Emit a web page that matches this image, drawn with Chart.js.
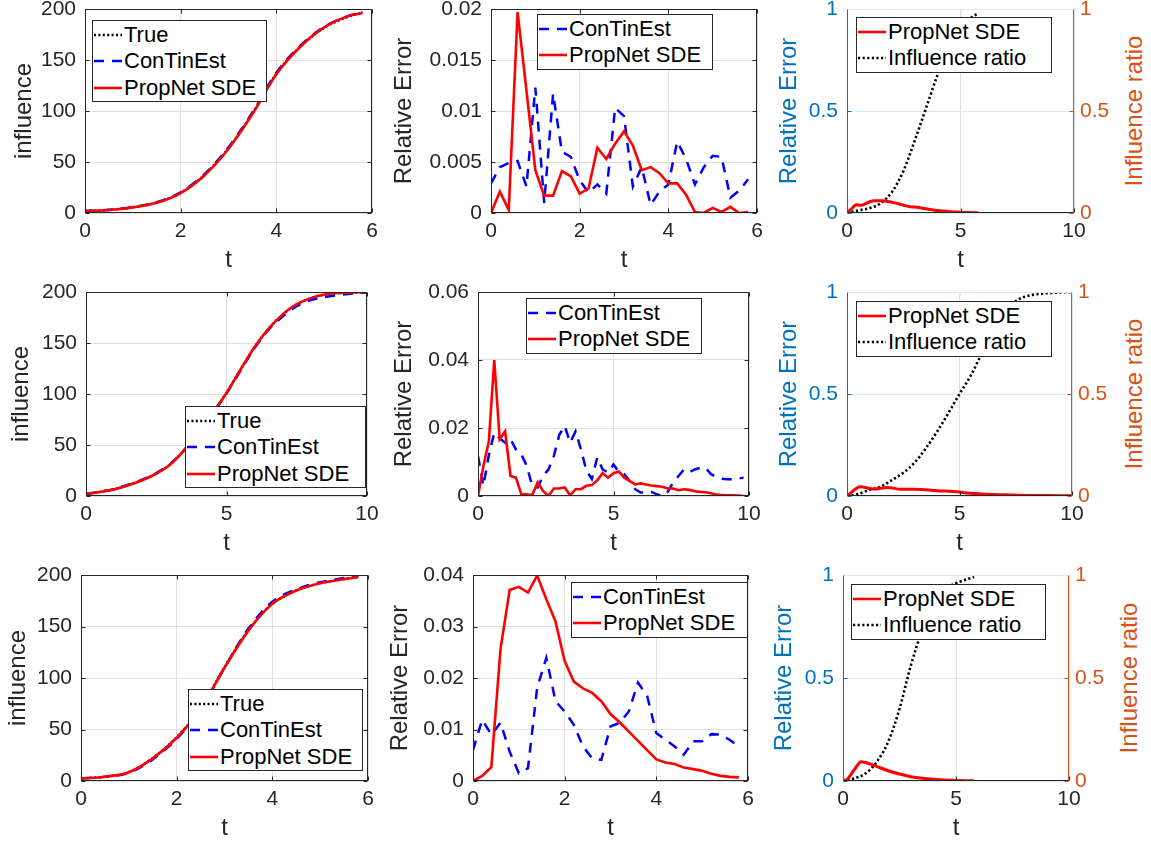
<!DOCTYPE html>
<html>
<head>
<meta charset="utf-8">
<script src="https://cdn.jsdelivr.net/npm/chart.js"></script>
<style>
  body { margin: 0; background: #fff; }
  #fig { position: relative; width: 1151px; height: 843px; overflow: hidden; font-family: "Liberation Sans", Arial, sans-serif; }
  .panel { position: absolute; }
  .legend { position: absolute; background: #fff; border: 1px solid #262626; box-sizing: border-box; font-size: 22px; color: #000; }
  .legend .row { position: absolute; left: 0; height: 26px; display: flex; align-items: center; white-space: nowrap; }
  .legend svg { margin-left: 1px; margin-right: 2px; }
  .rtitle { position: absolute; font-size: 24px; color: #D95319; white-space: nowrap; transform: translate(-50%, -50%) rotate(-90deg); }
</style>
</head>
<body>
<div id="fig"></div>
<script>
// time grids
const tFine1 = [0, 0.2, 0.4, 0.6, 0.8, 1, 1.2, 1.4, 1.6, 1.8, 2, 2.2, 2.4, 2.6, 2.8, 3, 3.2, 3.4, 3.6, 3.8, 4, 4.2, 4.4, 4.6, 4.8, 5, 5.2, 5.4, 5.6, 5.8];
const tFine2 = [0, 0.2, 0.4, 0.6, 0.8, 1, 1.2, 1.4, 1.6, 1.8, 2, 2.2, 2.4, 2.6, 2.8, 3, 3.2, 3.4, 3.6, 3.8, 4, 4.2, 4.4, 4.6, 4.8,
  5, 5.2, 5.4, 5.6, 5.8, 6, 6.2, 6.4, 6.6, 6.8, 7, 7.2, 7.4, 7.6, 7.8, 8, 8.2, 8.4, 8.6, 8.8, 9, 9.2, 9.4, 9.6, 9.8];
const tHalf1 = [0, 0.5, 1, 1.5, 2, 2.5, 3, 3.5, 4, 4.5, 5, 5.5, 5.8];
const tHalf2 = [0, 0.5, 1, 1.5, 2, 2.5, 3, 3.5, 4, 4.5, 5, 5.5, 6, 6.5, 7, 7.5, 8, 8.5, 9, 9.5, 10];

// column 1: influence
const true1 = [2, 3, 5.6, 10.3, 19.8, 37.5, 63.5, 97.5, 136.5, 163, 181.5, 192.5, 196.5];
const con1 = [2, 3.1, 5.8, 10.6, 20.3, 38.2, 64.5, 98.5, 137.5, 164, 182.5, 193, 197];
const prop1 = [2, 3, 5.5, 10, 19.5, 37, 63, 97, 136, 163, 182, 193, 196];

const true2 = [2, 4, 6.6, 10.6, 15.6, 22, 31, 45, 62, 81, 101, 124, 146, 164, 178, 188, 194, 197.5, 199, 199.5, 200];
const con2 = [2, 4.2, 6.8, 11, 16, 22.5, 31.5, 45.5, 62.5, 81, 100.5, 123, 145, 163, 176, 186, 192, 195, 197, 198.5, 199.5];
const prop2 = [2, 4, 6.5, 10.5, 15.5, 22, 31, 45, 62, 81, 101, 124, 146, 164, 178, 188, 194, 197.5, 199, 199.5, 200];

const true3 = [2.5, 4.2, 8.6, 22.3, 42.5, 70.5, 110.5, 146.5, 172, 185, 192, 196, 198];
const con3 = [2.5, 4, 8, 21, 41, 69, 110, 148, 174, 186, 193, 197, 199.5];
const prop3 = [2.5, 4.2, 8.5, 22, 42, 70, 110, 146, 172, 185, 192, 196, 198];

// column 2: relative error
const errCon1 = [0.0029, 0.0045, 0.0049, 0.0051, 0.0026, 0.0123, 0.001, 0.0117, 0.006, 0.0055, 0.0032, 0.002, 0.0028, 0.0019, 0.0103,
  0.0095, 0.0026, 0.0045, 0.0008, 0.0021, 0.0028, 0.007, 0.0053, 0.0028, 0.0045, 0.0056, 0.0055, 0.0015, 0.0022, 0.0033];
const errProp1 = [0, 0.0021, 0.0003, 0.0197, 0.012, 0.0042, 0.0017, 0.0017, 0.0041, 0.0036, 0.0019, 0.0024, 0.0064, 0.0053, 0.0068,
  0.008, 0.0066, 0.0042, 0.0045, 0.0039, 0.0029, 0.0029, 0.0018, 0.0001, 0, 0.0005, 0.0001, 0.0006, 0, 0.0001];

const errCon2 = [0.0118, 0.003, 0.012, 0.0186, 0.017, 0.0157, 0.0167, 0.0137, 0.0123, 0.0088, 0.003, 0.0025, 0.0059, 0.0078, 0.0118,
  0.018, 0.0206, 0.0157, 0.019, 0.0137, 0.0074, 0.005, 0.0113, 0.0078, 0.0069, 0.0093, 0.007, 0.0064, 0.0044, 0.002,
  0.001, 0.001, 0.0012, 0.0005, 0, 0.0012, 0.004, 0.0059, 0.0078, 0.007, 0.0078, 0.0083, 0.0083, 0.0064, 0.0056,
  0.0051, 0.0049, 0.0049, 0.0051, 0.0054];
const errProp2 = [0, 0.0088, 0.016, 0.04, 0.0167, 0.019, 0.0059, 0.0054, 0.0005, 0.0005, 0.0002, 0.004, 0.0015, 0, 0.0022,
  0.0022, 0.0025, 0.0002, 0.002, 0.002, 0.003, 0.0032, 0.0046, 0.0067, 0.0054, 0.0067, 0.0072, 0.0054, 0.0044, 0.0034,
  0.0037, 0.0034, 0.0031, 0.0029, 0.0027, 0.0022, 0.0022, 0.0017, 0.002, 0.0018, 0.0014, 0.0012, 0.0011, 0.0008, 0.0004,
  0.0003, 0.0002, 0.0002, 0.0001, 0];

const errCon3 = [0.006, 0.0119, 0.009, 0.0113, 0.0057, 0.0015, 0.0025, 0.0181, 0.0239, 0.0155, 0.0135, 0.0109, 0.0067, 0.0044, 0.0041,
  0.0106, 0.0113, 0.0135, 0.0191, 0.0165, 0.0093, 0.008, 0.0067, 0.0051, 0.0077, 0.0077, 0.0091, 0.009, 0.008, 0.0067];
const errProp3 = [0, 0.001, 0.0027, 0.0256, 0.0371, 0.0377, 0.0366, 0.0399, 0.0353, 0.031, 0.0233, 0.0193, 0.018, 0.0171, 0.0155,
  0.013, 0.0114, 0.0096, 0.0078, 0.006, 0.0042, 0.0036, 0.0033, 0.0026, 0.0023, 0.002, 0.0014, 0.001, 0.0008, 0.0007];

// column 3: error and influence ratio
const sdeErr1 = [0, 0.02, 0.04, 0.038, 0.045, 0.055, 0.06, 0.06, 0.06, 0.056, 0.052, 0.047, 0.041, 0.035, 0.03,
  0.029, 0.026, 0.022, 0.018, 0.015, 0.012, 0.01, 0.008, 0.006, 0.005, 0.004, 0.003, 0.002, 0.001, 0.0005];
const ratio1 = [0, 0.013, 0.024, 0.049, 0.106, 0.21, 0.36, 0.52, 0.68, 0.81, 0.9, 0.96, 0.98];

const tSde2 = [0, 0.6, 1, 1.2, 1.8, 2.4, 3, 4, 5, 5.2, 6, 7, 8, 9, 10];
const sdeErr2 = [0, 0.045, 0.037, 0.034, 0.042, 0.033, 0.033, 0.026, 0.02, 0.016, 0.01, 0.006, 0.003, 0.002, 0.001];
const ratio2 = [0, 0.01, 0.03, 0.046, 0.078, 0.114, 0.163, 0.233, 0.315, 0.405, 0.5, 0.59, 0.7, 0.8, 0.89, 0.955, 0.98, 0.99, 0.995, 0.998, 1];

const tSde3 = [0, 0.2, 0.5, 0.8, 1, 1.5, 2, 2.5, 3, 3.5, 4, 4.5, 5, 5.8];
const sdeErr3 = [0, 0.01, 0.055, 0.094, 0.09, 0.07, 0.05, 0.034, 0.021, 0.013, 0.008, 0.005, 0.003, 0.001];
const ratio3 = [0, 0.013, 0.037, 0.094, 0.19, 0.35, 0.56, 0.73, 0.86, 0.93, 0.96, 0.98, 0.99];

// ticks
const xTicks6 = [0, 2, 4, 6], xLabels6 = ["0", "2", "4", "6"];
const xTicks10 = [0, 5, 10], xLabels10 = ["0", "5", "10"];
const yTicksInf = [0, 50, 100, 150, 200], yLabelsInf = ["0", "50", "100", "150", "200"];
const yTicksE1 = [0, 0.005, 0.01, 0.015, 0.02], yLabelsE1 = ["0", "0.005", "0.01", "0.015", "0.02"];
const yTicksE2 = [0, 0.02, 0.04, 0.06], yLabelsE2 = ["0", "0.02", "0.04", "0.06"];
const yTicksE3 = [0, 0.01, 0.02, 0.03, 0.04], yLabelsE3 = ["0", "0.01", "0.02", "0.03", "0.04"];
const yTicksR = [0, 0.5, 1], yLabelsR = ["0", "0.5", "1"];

const FONT = '"Liberation Sans", Arial, sans-serif';
const INK = "#262626";
const GRID = "#dfdfdf";
const BLUE_AX = "#0072BD";
const ORANGE_AX = "#D95319";

const styles = {
  prop: { label: "PropNet SDE", borderColor: "#ff0000", borderWidth: 2.6, borderDash: [] },
  con: { label: "ConTinEst", borderColor: "#0000ff", borderWidth: 2.5, borderDash: [10, 8] },
  tru: { label: "True", borderColor: "#000000", borderWidth: 2.4, borderDash: [2, 2.4] },
  ratio: { label: "Influence ratio", borderColor: "#000000", borderWidth: 2.6, borderDash: [2.2, 2.4] },
};

function zip(t, v) {
  return t.map((x, i) => ({ x: x, y: v[i] }));
}

function ds(kind, t, v, extra) {
  const s = styles[kind];
  return Object.assign({
    label: s.label, data: zip(t, v), borderColor: s.borderColor, borderWidth: s.borderWidth,
    borderDash: s.borderDash, borderCapStyle: "butt", pointRadius: 0, fill: false, tension: 0,
  }, extra || {});
}

// axes box + inner tick marks drawn on top of the data, like matlab
const framePlugin = {
  id: "frame",
  afterDatasetsDraw(chart, args, o) {
    const a = chart.chartArea;
    const ctx = chart.ctx;
    const l = Math.round(a.left) + 0.5, r = Math.round(a.right) - 0.5;
    const t = Math.round(a.top) + 0.5, b = Math.round(a.bottom) - 0.5;
    const seg = (x1, y1, x2, y2, c) => {
      ctx.beginPath(); ctx.moveTo(x1, y1); ctx.lineTo(x2, y2); ctx.strokeStyle = c; ctx.stroke();
    };
    ctx.save();
    ctx.lineWidth = 1;
    chart.scales.x.ticks.forEach((tk) => {
      const px = Math.round(chart.scales.x.getPixelForValue(tk.value)) + 0.5;
      seg(px, b, px, b - 4, o.bottom);
      seg(px, t, px, t + 4, o.top);
    });
    chart.scales.y.ticks.forEach((tk) => {
      const py = Math.round(chart.scales.y.getPixelForValue(tk.value)) + 0.5;
      seg(l, py, l + 4, py, o.left);
      seg(r, py, r - 4, py, o.right);
    });
    seg(l - 0.5, t, r + 0.5, t, o.top);
    seg(l - 0.5, b, r + 0.5, b, o.bottom);
    seg(l, t, l, b, o.left);
    seg(r, t, r, b, o.right);
    ctx.restore();
  },
};

const fig = document.getElementById("fig");

function addLegend(box, rows) {
  const lg = document.createElement("div");
  lg.className = "legend";
  lg.style.left = box[0] + "px";
  lg.style.top = box[1] + "px";
  lg.style.width = box[2] + "px";
  lg.style.height = (rows.length * 26.3 + 3.5) + "px";
  rows.forEach((kind, i) => {
    const s = styles[kind];
    const row = document.createElement("div");
    row.className = "row";
    row.style.top = (15 + 26.3 * i - 13 - 1) + "px";
    const dash = s.borderDash.length ? s.borderDash.join(" ") : "none";
    row.innerHTML = '<svg width="28" height="6"><line x1="0" y1="3" x2="28" y2="3" stroke="' + s.borderColor +
      '" stroke-width="' + s.borderWidth + '" stroke-dasharray="' + dash + '"/></svg><span>' + s.label + "</span>";
    lg.appendChild(row);
  });
  fig.appendChild(lg);
}

function buildPanel(p) {
  const mt = 14, mb = 62;
  const mr = p.twin ? 45 : 14;
  const left = p.ytc - 14;
  const ml = p.L - left;
  const W = ml + (p.R - p.L) + mr;
  const H = mt + (p.B - p.T) + mb;

  const wrap = document.createElement("div");
  wrap.className = "panel";
  wrap.style.left = left + "px";
  wrap.style.top = (p.T - mt) + "px";
  wrap.style.width = W + "px";
  wrap.style.height = H + "px";
  const cv = document.createElement("canvas");
  cv.width = W;
  cv.height = H;
  wrap.appendChild(cv);
  fig.appendChild(wrap);

  const tickFont = { family: FONT, size: 21 };
  const titleFont = { family: FONT, size: 24 };
  const titleLH = 24 * 1.2;
  const leftColor = p.twin ? BLUE_AX : INK;

  const scales = {
    x: {
      type: "linear", min: 0, max: p.xMax,
      afterBuildTicks: (s) => { s.ticks = p.xTicks.map((v) => ({ value: v })); },
      afterFit: (s) => { s.height = mb; s.paddingLeft = 0; s.paddingRight = 0; },
      ticks: { color: INK, font: tickFont, padding: 6, maxRotation: 0, autoSkip: false, callback: (v, i) => p.xLabels[i] },
      grid: { color: GRID, drawTicks: false },
      border: { display: false },
      title: { display: true, text: "t", color: INK, font: titleFont, padding: { top: 0, bottom: mb - 47 - titleLH / 2 } },
    },
    y: {
      type: "linear", position: "left", min: 0, max: p.yMax,
      afterBuildTicks: (s) => { s.ticks = p.yTicks.map((v) => ({ value: v })); },
      afterFit: (s) => { s.width = ml; s.paddingTop = 0; s.paddingBottom = 0; },
      ticks: { color: leftColor, font: tickFont, padding: 9, autoSkip: false, callback: (v, i) => p.yLabels[i] },
      grid: { color: p.twin ? "#d9eaf5" : GRID, drawTicks: false },
      border: { display: false },
      title: { display: true, text: p.yTitle, color: leftColor, font: titleFont, padding: { top: 14 - titleLH / 2, bottom: 0 } },
    },
  };
  if (p.twin) {
    scales.y2 = {
      type: "linear", position: "right", min: 0, max: 1,
      afterBuildTicks: (s) => { s.ticks = yTicksR.map((v) => ({ value: v })); },
      afterFit: (s) => { s.width = mr; s.paddingTop = 0; s.paddingBottom = 0; },
      ticks: { color: ORANGE_AX, font: tickFont, padding: 6, autoSkip: false, callback: (v, i) => yLabelsR[i] },
      grid: { display: false, drawTicks: false },
      border: { display: false },
    };
  }

  new Chart(cv, {
    type: "line",
    data: { datasets: p.datasets },
    plugins: [framePlugin],
    options: {
      responsive: false,
      animation: false,
      events: [],
      layout: { padding: { top: mt, right: p.twin ? 0 : mr, left: 0, bottom: 0 } },
      scales: scales,
      plugins: {
        legend: { display: false },
        tooltip: { enabled: false },
        frame: p.twin
          ? { top: "#d9eaf5", bottom: INK, left: BLUE_AX, right: ORANGE_AX }
          : { top: INK, bottom: INK, left: INK, right: INK },
      },
    },
  });

  if (p.twin) {
    const rt = document.createElement("div");
    rt.className = "rtitle";
    rt.textContent = "Influence ratio";
    rt.style.left = p.rtc + "px";
    rt.style.top = ((p.T + p.B) / 2) + "px";
    fig.appendChild(rt);
  }
  addLegend(p.legendBox, p.legendRows);
}

const smooth = { cubicInterpolationMode: "monotone" };

const panels = [
  // row 1
  { L: 85, R: 372, T: 9, B: 213, ytc: 24, xMax: 6, xTicks: xTicks6, xLabels: xLabels6, yMax: 200, yTicks: yTicksInf, yLabels: yLabelsInf,
    yTitle: "influence", legendBox: [92, 20, 175], legendRows: ["tru", "con", "prop"],
    datasets: [ds("prop", tHalf1, prop1, Object.assign({ order: 0 }, smooth)), ds("con", tHalf1, con1, Object.assign({ order: 1 }, smooth)),
      ds("tru", tHalf1, true1, Object.assign({ order: 2 }, smooth))] },
  { L: 491, R: 757, T: 9, B: 213, ytc: 404, xMax: 6, xTicks: xTicks6, xLabels: xLabels6, yMax: 0.02, yTicks: yTicksE1, yLabels: yLabelsE1,
    yTitle: "Relative Error", legendBox: [537, 14, 176], legendRows: ["con", "prop"],
    datasets: [ds("prop", tFine1, errProp1, { order: 0 }), ds("con", tFine1, errCon1, { order: 1 })] },
  { L: 847, R: 1074, T: 9, B: 213, ytc: 789, rtc: 1134, twin: true, xMax: 10, xTicks: xTicks10, xLabels: xLabels10, yMax: 1, yTicks: yTicksR, yLabels: yLabelsR,
    yTitle: "Relative Error", legendBox: [856, 17, 196], legendRows: ["prop", "ratio"],
    datasets: [ds("prop", tFine1, sdeErr1, Object.assign({ order: 0, borderWidth: 3 }, smooth)),
      ds("ratio", tHalf1, ratio1, Object.assign({ order: 1, yAxisID: "y2" }, smooth))] },
  // row 2
  { L: 86, R: 367, T: 292, B: 496, ytc: 21, xMax: 10, xTicks: xTicks10, xLabels: xLabels10, yMax: 200, yTicks: yTicksInf, yLabels: yLabelsInf,
    yTitle: "influence", legendBox: [185, 406, 181], legendRows: ["tru", "con", "prop"],
    datasets: [ds("prop", tHalf2, prop2, Object.assign({ order: 0 }, smooth)), ds("con", tHalf2, con2, Object.assign({ order: 1 }, smooth)),
      ds("tru", tHalf2, true2, Object.assign({ order: 2 }, smooth))] },
  { L: 478, R: 749, T: 292, B: 496, ytc: 404, xMax: 10, xTicks: xTicks10, xLabels: xLabels10, yMax: 0.06, yTicks: yTicksE2, yLabels: yLabelsE2,
    yTitle: "Relative Error", legendBox: [526, 298, 176], legendRows: ["con", "prop"],
    datasets: [ds("prop", tFine2, errProp2, { order: 0 }), ds("con", tFine2, errCon2, { order: 1 })] },
  { L: 847, R: 1072, T: 292, B: 496, ytc: 789, rtc: 1134, twin: true, xMax: 10, xTicks: xTicks10, xLabels: xLabels10, yMax: 1, yTicks: yTicksR, yLabels: yLabelsR,
    yTitle: "Relative Error", legendBox: [856, 301, 196], legendRows: ["prop", "ratio"],
    datasets: [ds("prop", tSde2, sdeErr2, Object.assign({ order: 0, borderWidth: 3 }, smooth)),
      ds("ratio", tHalf2, ratio2, Object.assign({ order: 1, yAxisID: "y2" }, smooth))] },
  // row 3
  { L: 81, R: 368, T: 575, B: 781, ytc: 18, xMax: 6, xTicks: xTicks6, xLabels: xLabels6, yMax: 200, yTicks: yTicksInf, yLabels: yLabelsInf,
    yTitle: "influence", legendBox: [188, 689, 175], legendRows: ["tru", "con", "prop"],
    datasets: [ds("prop", tHalf1, prop3, Object.assign({ order: 0 }, smooth)), ds("con", tHalf1, con3, Object.assign({ order: 1 }, smooth)),
      ds("tru", tHalf1, true3, Object.assign({ order: 2 }, smooth))] },
  { L: 473, R: 748, T: 575, B: 781, ytc: 400, xMax: 6, xTicks: xTicks6, xLabels: xLabels6, yMax: 0.04, yTicks: yTicksE3, yLabels: yLabelsE3,
    yTitle: "Relative Error", legendBox: [571, 582, 177], legendRows: ["con", "prop"],
    datasets: [ds("prop", tFine1, errProp3, { order: 0 }), ds("con", tFine1, errCon3, { order: 1 })] },
  { L: 843, R: 1069, T: 575, B: 781, ytc: 784, rtc: 1129, twin: true, xMax: 10, xTicks: xTicks10, xLabels: xLabels10, yMax: 1, yTicks: yTicksR, yLabels: yLabelsR,
    yTitle: "Relative Error", legendBox: [851, 584, 195], legendRows: ["prop", "ratio"],
    datasets: [ds("prop", tSde3, sdeErr3, Object.assign({ order: 0, borderWidth: 3 }, smooth)),
      ds("ratio", tHalf1, ratio3, Object.assign({ order: 1, yAxisID: "y2" }, smooth))] },
];

panels.forEach(buildPanel);
</script>
</body>
</html>
